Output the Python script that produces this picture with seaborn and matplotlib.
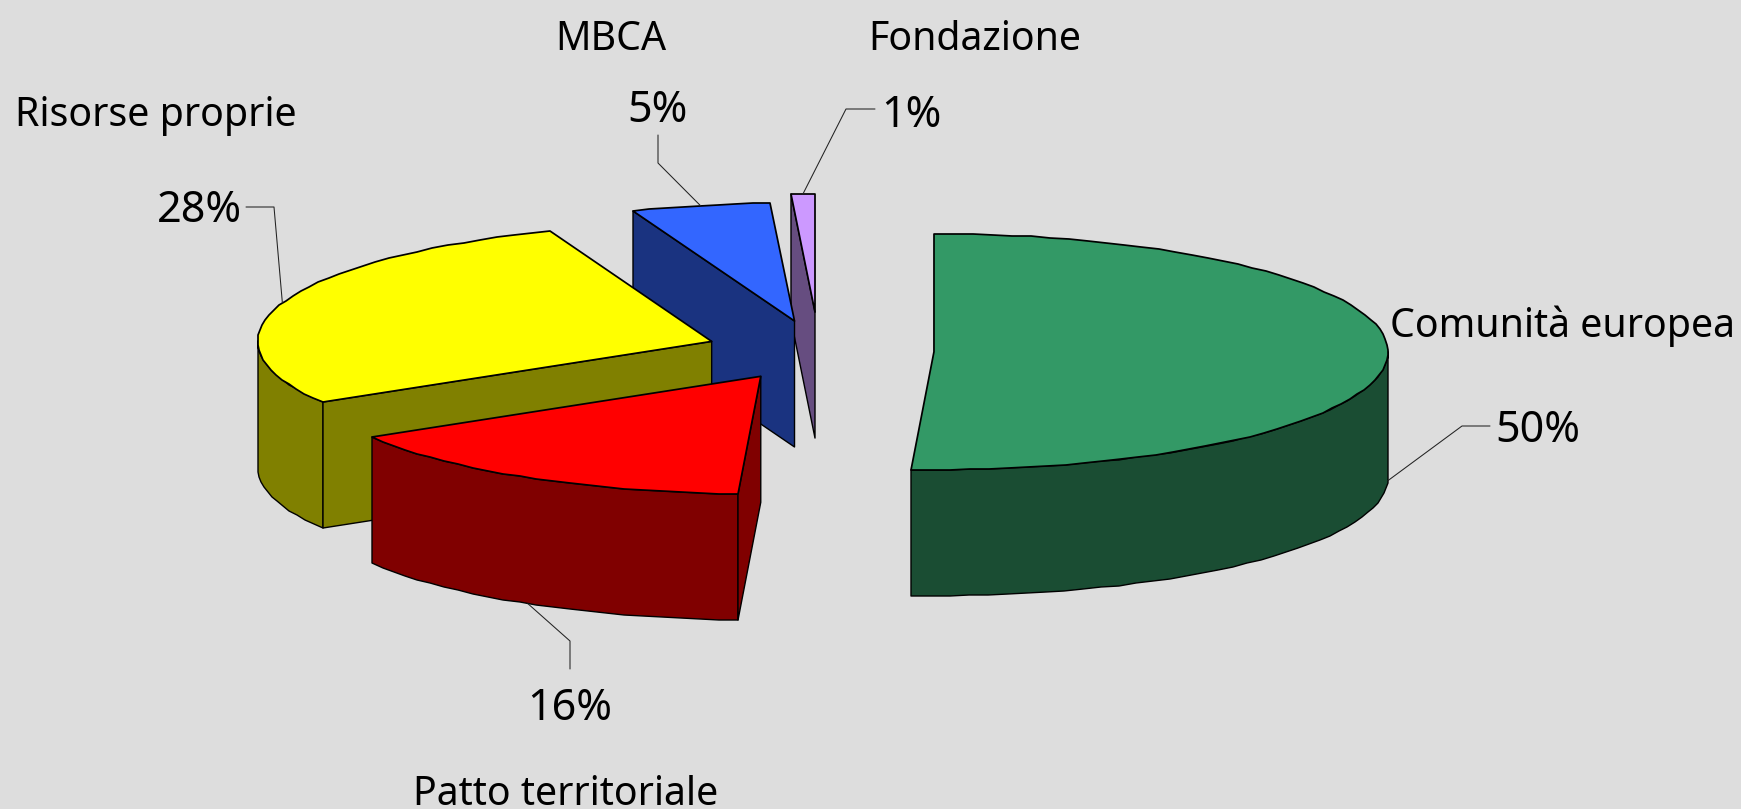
import numpy as np
import matplotlib
matplotlib.use("Agg")
import matplotlib.pyplot as plt
import seaborn as sns

# values, clockwise from the top of the pie
names = ["Comunità europea", "Patto territoriale", "Risorse proprie", "MBCA", "Fondazione"]
shares = [50.8, 15.55, 27.85, 4.95, 0.85]
pct_labels = ["50%", "16%", "28%", "5%", "1%"]
top_colors = ["#339966", "#FF0000", "#FFFF00", "#3366FF", "#CC99FF"]
side_colors = ["#1A4D33", "#800000", "#808000", "#1A3380", "#664D80"]

# pie geometry, in pixels
cx, cy = 819, 351
rx, ry = 454, 118
depth = 126
explode = [0.2533, 0.25, 0.25, 0.26, 0.33]
draw_order = [4, 3, 2, 0, 1]

# text spots and leader elbows, in pixels
name_pos = [(1390, 337), (413, 805), (15, 126), (555, 50), (868, 50)]
pct_pos = [(1495, 442), (527, 720), (157, 222), (627, 122), (881, 127)]
elbows = [[(1462, 426), (1490, 426)], [(570, 641), (570, 669)], [(274, 207), (246, 207)],
          [(658, 163), (658, 135)], [(846, 109), (875, 109)]]

sns.set_theme(style="white", rc={"figure.facecolor": "#DDDDDD", "axes.facecolor": "#DDDDDD"})
plt.rcParams["font.family"] = ["Noto Sans", "DejaVu Sans"]

fig = plt.figure(figsize=(17.41, 8.09), dpi=100)
ax = fig.add_axes([0, 0, 1, 1])
ax.set_xlim(0, 1741)
ax.set_ylim(809, 0)
ax.axis("off")

edges = np.cumsum([0] + shares) * 3.6


def rim(x0, y0, a, b, drop=0):
    t = np.radians(np.linspace(a, b, max(2, int(abs(b - a) / 2.5) + 2)))
    # the original arcs are a little bumpy, snap them to whole pixels
    xs = np.round(x0 + rx * np.sin(t))
    ys = np.round(y0 - ry * np.cos(t))
    return xs, ys + drop


def face(xs, ys, color, lw=1.0):
    ax.fill(xs, ys, facecolor=color, edgecolor="black", linewidth=lw, joinstyle="round")


for i in draw_order:
    a, b = edges[i], edges[i + 1]
    mid = np.radians((a + b) / 2)
    x0 = cx + explode[i] * rx * np.sin(mid)
    y0 = cy - explode[i] * ry * np.cos(mid)

    # outer wall, only the front half of the pie shows
    lo, hi = max(a, 90), min(b, 270)
    if lo < hi:
        xa, ya = rim(x0, y0, lo, hi)
        xb, yb = rim(x0, y0, lo, hi, depth)
        face(np.r_[xa, xb[::-1]], np.r_[ya, yb[::-1]], side_colors[i], 1.0)

    # cut walls facing the viewer
    for ang, show in ((a, np.sin(np.radians(a)) < 0), (b, np.sin(np.radians(b)) > 0)):
        if show:
            xe, ye = rim(x0, y0, ang, ang)
            face([x0, xe[0], xe[0], x0], [y0, ye[0], ye[0] + depth, y0 + depth], side_colors[i], 1.0)

    xa, ya = rim(x0, y0, a, b)
    face(np.r_[x0, xa], np.r_[y0, ya], top_colors[i], 1.25)

    # leader starts at the middle of the slice
    ax_, ay_ = x0 + rx * np.sin(mid), y0 - ry * np.cos(mid)
    if 90 < np.degrees(mid) < 270 or i == 0:
        ay_ += depth
    lx = [ax_] + [p[0] for p in elbows[i]]
    ly = [ay_] + [p[1] for p in elbows[i]]
    ax.plot(lx, ly, color="#222222", linewidth=0.75, zorder=5)

for i in range(len(names)):
    ax.text(name_pos[i][0], name_pos[i][1], names[i], fontsize=28.3, color="black",
            ha="left", va="baseline")
    ax.text(pct_pos[i][0], pct_pos[i][1], pct_labels[i], fontsize=31, color="black",
            ha="left", va="baseline")

fig.savefig("out.png", dpi=100, facecolor=fig.get_facecolor())
